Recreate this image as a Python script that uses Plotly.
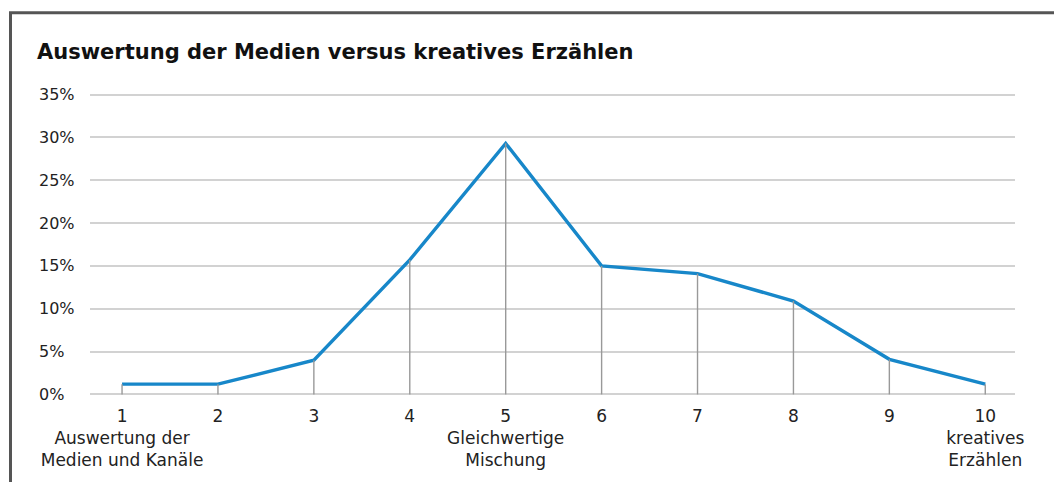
import plotly.graph_objects as go

# Scale positions 1..10 and the share of answers at each position (percent)
scale_points = [1, 2, 3, 4, 5, 6, 7, 8, 9, 10]
shares = [1.2, 1.2, 4.0, 15.7, 29.3, 15.0, 14.1, 10.9, 4.1, 1.2]
scale_labels = [
    "1<br>Auswertung der<br>Medien und Kanäle",
    "2", "3", "4",
    "5<br>Gleichwertige<br>Mischung",
    "6", "7", "8", "9",
    "10<br>kreatives<br>Erzählen",
]
y_ticks = [0, 5, 10, 15, 20, 25, 30, 35]
y_tick_text = [f"{v}%" for v in y_ticks]

W, H = 1054, 482
Y_MIN, Y_MAX = -0.3, 35.3
ML, MR, MT, MB = 90, 39, 92, 80
PW, PH = W - ML - MR, H - MT - MB

def px_to_paper_x(px):
    return (px - ML) / PW

def px_to_paper_y(py):
    return 1 - (py - MT) / PH

FONT = "'DejaVu Sans', Roboto, sans-serif"
BLUE = "#1787c9"

# Vertical drop lines from each point down to the baseline
drop_x, drop_y = [], []
for x, v in zip(scale_points, shares):
    drop_x += [x, x, None]
    drop_y += [0, v, None]

fig = go.Figure()
fig.add_trace(go.Scatter(
    x=scale_points, y=shares, mode="lines",
    line=dict(color=BLUE, width=3.4),
    hoverinfo="skip", showlegend=False,
))
fig.add_trace(go.Scatter(
    x=drop_x, y=drop_y, mode="lines",
    line=dict(color="#999999", width=1.4),
    hoverinfo="skip", showlegend=False,
))

# Left-aligned y tick labels
for v, t in zip(y_ticks, y_tick_text):
    fig.add_annotation(
        x=px_to_paper_x(37), xref="paper", y=v, yref="y",
        text=t, showarrow=False, xanchor="left", yanchor="middle",
        font=dict(family=FONT, size=16, color="#222"),
    )

# Frame along the top and left edge
fig.add_shape(
    type="path", xref="paper", yref="paper",
    path=(f"M {px_to_paper_x(10.5)},{px_to_paper_y(490)} "
          f"L {px_to_paper_x(10.5)},{px_to_paper_y(11.5)} "
          f"L {px_to_paper_x(1070)},{px_to_paper_y(11.5)}"),
    line=dict(color="#555555", width=3),
)

fig.update_layout(
    width=W, height=H,
    margin=dict(l=ML, r=MR, t=MT, b=MB),
    paper_bgcolor="white", plot_bgcolor="white",
    title=dict(
        text="<b>Auswertung der Medien versus kreatives Erzählen</b>",
        x=37 / W, xref="container", xanchor="left",
        y=1 - 52 / H, yref="container", yanchor="middle",
        font=dict(family=FONT, size=21, color="#111"),
    ),
    xaxis=dict(
        range=[0.666, 10.31], tickmode="array",
        tickvals=scale_points, ticktext=scale_labels,
        showgrid=False, zeroline=False, showline=False, ticks="",
        ticklabelstandoff=7,
        tickfont=dict(family=FONT, size=17, color="#222"),
        fixedrange=True,
    ),
    yaxis=dict(
        range=[Y_MIN, Y_MAX], tickmode="array", tickvals=y_ticks,
        showticklabels=False, showgrid=True, gridcolor="#d2d2d2",
        gridwidth=1.5, zeroline=False, showline=False, fixedrange=True,
    ),
)

fig.write_html("out.html")
